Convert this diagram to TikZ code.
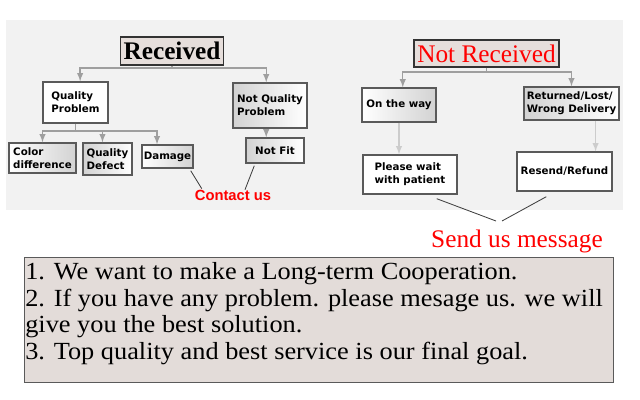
\documentclass[tikz,border=0pt]{standalone}
\usepackage{fontspec}
\setmainfont{Liberation Serif}
\newfontfamily\notefont[FakeStretch=1.07]{Liberation Serif}
\newfontfamily\boxfont{DejaVu Sans}
\newfontfamily\contactfont{Liberation Sans}
\usetikzlibrary{calc}

\definecolor{panelgray}{HTML}{F2F2F2}
\definecolor{notefill}{HTML}{E3DCD9}
\definecolor{titlefill}{HTML}{E6DEDB}
\definecolor{edgegray}{HTML}{5A5A5A}

\tikzset{
  boxsize/.style 2 args={minimum width=#1*0.025cm, minimum height=#2*0.025cm},
  stepbox/.style={draw=edgegray, line width=1pt, fill=white, inner sep=0pt, align=left,
    font=\boxfont\bfseries\fontsize{7.3}{9.4}\selectfont},
  shadeleft/.style={stepbox, left color=gray!35, right color=white},
  shaderight/.style={stepbox, left color=white, right color=gray!35},
  titlebox/.style={draw=black!80, line width=0.8pt, fill=titlefill, inner sep=0pt,
    font=\fontsize{18}{20}\selectfont},
  flow/.style={->, >=latex, draw=gray!75, line width=1pt},
  flowlight/.style={->, >=latex, draw=gray!40, line width=1pt},
  pointer/.style={draw=black!75, line width=0.6pt},
}

\begin{document}
\begin{tikzpicture}[x=0.025cm, y=-0.025cm]
	\useasboundingbox (0,0) rectangle (640,400);
	\fill[panelgray] (6,20) rectangle (623,210);

	% received side
	\node[titlebox, boxsize={103}{28}, font=\bfseries\fontsize{18}{20}\selectfont] (rec) at (172,51) {Received};
	\node[stepbox, boxsize={65}{41}] (qp) at (75.5,102.5) {Quality\\Problem};
	\node[shadeleft, boxsize={74}{45}] (nqp) at (270,105.5) {Not Quality\\Problem};
	\node[shaderight, boxsize={67}{30}] (cd) at (42.5,158) {Color\\difference};
	\node[shadeleft, boxsize={49}{32}] (qd) at (107.5,159) {Quality\\Defect};
	\node[shaderight, boxsize={51}{23}] (dmg) at (167.5,156.5) {Damage};
	\node[shadeleft, boxsize={58}{25}] (nf) at (275,150.5) {Not Fit};
	\node[text=red, inner sep=2pt, font=\contactfont\bfseries\fontsize{10.5}{12}\selectfont] (contact) at (233,195) {Contact us};

	\coordinate (recj) at (172,68);
	\draw[draw=gray!75, line width=1pt] (rec.south) -- (recj);
	\draw[flow] (recj) -| ($(qp.north)!.14!(qp.north east)$);
	\draw[flow] (recj) -| ($(nqp.north)!.1!(nqp.north west)$);

	\coordinate (qpj) at (75.5,131);
	\draw[draw=gray!75, line width=1pt] (qp.south) -- (qpj);
	\draw[flow] (qpj) -| (cd.north);
	\draw[flow] (qpj) -| ($(qd.north)!.2!(qd.north west)$);
	\draw[flow] (qpj) -| ($(dmg.north)!.4!(dmg.north west)$);
	\coordinate (nqpb) at ($(nqp.south)!.1!(nqp.south west)$);
	\draw[flow] (nqpb) -- (nqpb |- nf.north);

	\draw[pointer] ($(dmg.south east)+(-3,2)$) -- ($(contact.north west)+(10,2)$);
	\draw[pointer] ($(nf.south west)+(9,2)$) -- ($(contact.north)+(12,3)$);

	% not received side
	\node[titlebox, boxsize={145}{27}, text=red] (nrec) at (486.5,53.5) {Not Received};
	\node[shaderight, boxsize={74}{34}] (ow) at (399,105) {On the way};
	\node[shadeleft, boxsize={95}{33}] (rlw) at (571.5,103.5) {Returned/Lost/\\Wrong Delivery};
	\node[stepbox, boxsize={94}{39}] (pw) at (410,174.5) {Please wait\\with patient};
	\node[stepbox, boxsize={95}{39}] (rr) at (564.5,171.5) {Resend/Refund};
	\node[text=red, inner sep=0pt, font=\fontsize{18}{20}\selectfont] (send) at (517,241) {Send us message};

	\coordinate (nrecj) at (486.5,72);
	\draw[draw=gray!75, line width=1pt] (nrec.south) -- (nrecj);
	\draw[flow] (nrecj) -| ($(ow.north)!.1!(ow.north east)$);
	\draw[flow] (nrecj) -| (rlw.north);
	\draw[flowlight] (ow.south) -- (ow.south |- pw.north);
	\coordinate (rlwb) at ($(rlw.south)!.5!(rlw.south east)$);
	\draw[flowlight] (rlwb) -- (rlwb |- rr.north);

	\coordinate (vtip) at (499,221);
	\draw[pointer] ($(pw.south east)+(-21,4)$) -- ($(vtip)+(-3,0)$);
	\draw[pointer] ($(rr.south west)+(30,5)$) -- ($(vtip)+(3,0)$);

	% note
	\node[draw=edgegray, line width=1pt, fill=notefill, anchor=north west, boxsize={589}{125}] (note) at (24,257) {};
	\node[anchor=north west, inner sep=0pt, align=left, font=\notefont\fontsize{17.5}{19}\selectfont] (notetext) at (25,262)
		{1. We want to make a Long-term Cooperation.\\
		 2. If you have any problem. please mesage us. we will\\
		 give you the best solution.\\
		 3. Top quality and best service is our final goal.};
\end{tikzpicture}
\end{document}
